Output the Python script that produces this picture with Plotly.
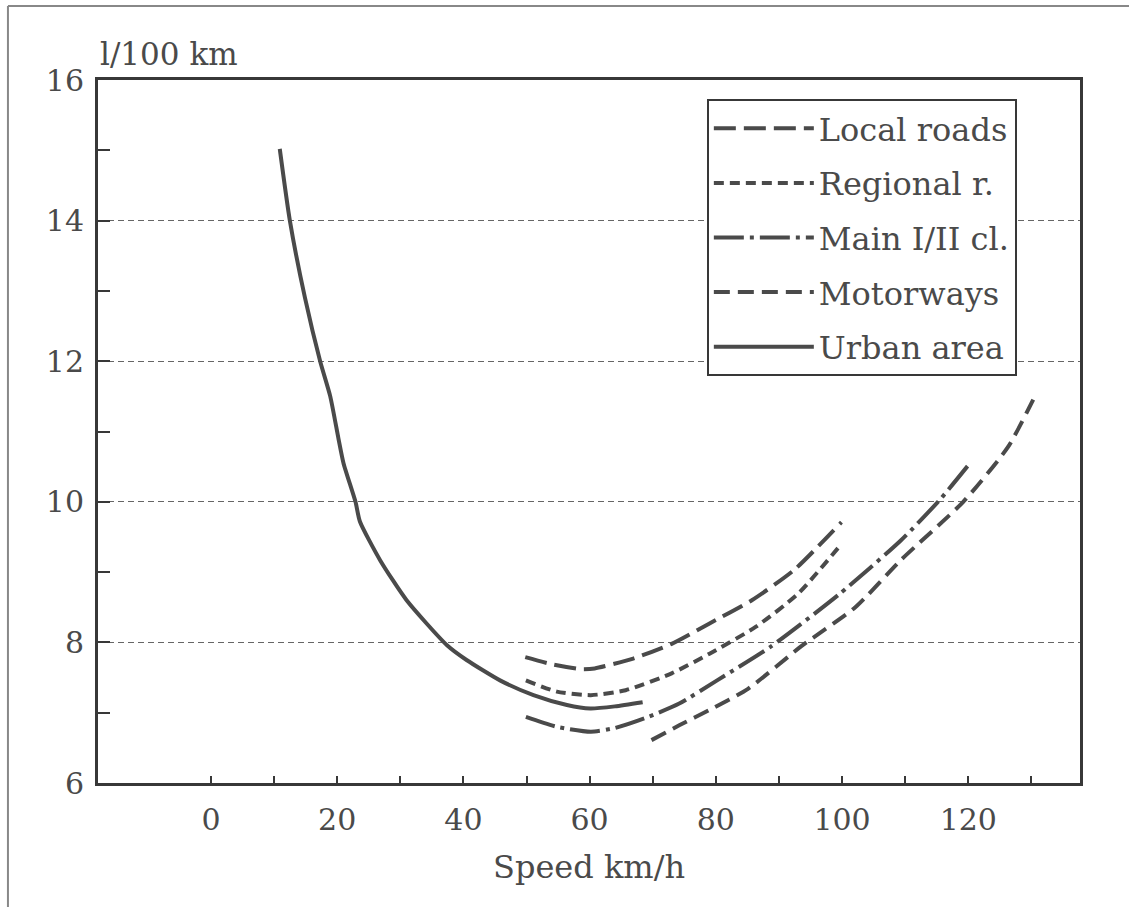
import plotly.graph_objects as go

# ---- data ----
urban_x = [10.9, 12.5, 14.9, 17.3, 18.9, 20.2, 21.0, 22.9, 23.6, 26.8, 31.0, 37.4, 40.5, 45.8, 51.1, 56.4, 60.1, 64.0, 68.4]
urban_y = [15.02, 14.0, 12.9, 12.0, 11.5, 10.9, 10.55, 10.0, 9.72, 9.17, 8.6, 7.96, 7.75, 7.46, 7.25, 7.11, 7.06, 7.09, 7.15]

local_x = [49.8, 54.0, 58.7, 60.8, 66.9, 73.0, 79.0, 85.7, 92.4, 99.9]
local_y = [7.79, 7.69, 7.62, 7.63, 7.77, 7.98, 8.27, 8.60, 9.03, 9.71]

regional_x = [49.9, 54.8, 60.2, 65.7, 73.0, 79.0, 86.3, 93.0, 99.9]
regional_y = [7.46, 7.30, 7.25, 7.32, 7.56, 7.84, 8.22, 8.69, 9.40]

main_x = [49.9, 54.8, 60.2, 63.9, 68.7, 74.2, 80.2, 88.7, 99.6, 109.3, 115.4, 120.0]
main_y = [6.94, 6.80, 6.73, 6.78, 6.92, 7.13, 7.46, 7.94, 8.69, 9.45, 10.02, 10.52]

motor_x = [69.8, 74.2, 79.0, 85.1, 93.6, 102.1, 109.3, 119.2, 126.3, 130.6]
motor_y = [6.61, 6.82, 7.04, 7.34, 7.95, 8.50, 9.17, 10.0, 10.78, 11.51]

x_major_ticks = [0, 20, 40, 60, 80, 100, 120]
x_minor_ticks = [10, 30, 50, 70, 90, 110, 130]
y_major_ticks = [6, 8, 10, 12, 14, 16]

series = [
    ("Local roads", local_x, local_y, "22px,8px"),
    ("Regional r.", regional_x, regional_y, "10px,6px"),
    ("Main I/II cl.", main_x, main_y, "30px,6px,4px,6px"),
    ("Motorways", motor_x, motor_y, "16px,8px"),
    ("Urban area", urban_x, urban_y, "solid"),
]

INK = "#4a4a4a"
AXIS = "#383838"
FONT = "DejaVu Serif"

fig = go.Figure()
for i, (name, xs, ys, dash) in enumerate(series):
    fig.add_trace(go.Scatter(
        x=xs, y=ys, mode="lines", name=name, legendgroup=f"g{i}",
        line=dict(color=INK, width=4, dash=dash, shape="spline", smoothing=0.6),
    ))

fig.update_layout(
    width=1129, height=907,
    margin=dict(l=98, r=49, t=80, b=124),
    paper_bgcolor="white", plot_bgcolor="white",
    font=dict(family=FONT, size=30, color=INK),
    showlegend=True,
    legend=dict(
        x=0.620, y=0.973, xanchor="left", yanchor="top",
        bordercolor=AXIS, borderwidth=2, bgcolor="white",
        font=dict(family=FONT, size=32, color=INK),
        itemwidth=100, tracegroupgap=10, traceorder="grouped",
    ),
    xaxis=dict(
        range=[-17.9, 137.7],
        tickmode="array", tickvals=x_major_ticks,
        ticks="inside", ticklen=7, tickwidth=2, tickcolor=AXIS,
        minor=dict(tickmode="array", tickvals=x_minor_ticks, ticks="inside",
                   ticklen=7, tickwidth=2, tickcolor=AXIS, showgrid=False),
        showgrid=False, zeroline=False,
        showline=True, linecolor=AXIS, linewidth=3, mirror=True,
        ticklabelstandoff=8,
        title=dict(text="Speed km/h", standoff=20,
                   font=dict(family=FONT, size=32, color=INK)),
        tickfont=dict(family=FONT, size=30, color=INK),
    ),
    yaxis=dict(
        range=[6, 16],
        tickmode="array", tickvals=y_major_ticks,
        ticks="inside", ticklen=12, tickwidth=2, tickcolor=AXIS,
        minor=dict(dtick=1, tick0=6, ticks="inside", ticklen=12, tickwidth=2,
                   tickcolor=AXIS, showgrid=False),
        showgrid=True, gridcolor="#666666", gridwidth=1, griddash="6px,4px",
        zeroline=False,
        showline=True, linecolor=AXIS, linewidth=3, mirror=True,
        ticklabelstandoff=5,
        tickfont=dict(family=FONT, size=30, color=INK),
    ),
    annotations=[dict(
        text="l/100 km", xref="paper", yref="paper", x=0.0, y=1.0,
        xanchor="left", yanchor="bottom", yshift=6, showarrow=False,
        font=dict(family=FONT, size=31, color=INK),
    )],
    shapes=[
        dict(type="line", xref="paper", yref="paper", x0=-0.0917, x1=1.06,
             y0=1.1053, y1=1.1053, line=dict(color="#888888", width=2)),
        dict(type="line", xref="paper", yref="paper", x0=-0.0917, x1=-0.0917,
             y0=-0.2, y1=1.1053, line=dict(color="#888888", width=2)),
    ],
)

fig.write_html("out.html")
